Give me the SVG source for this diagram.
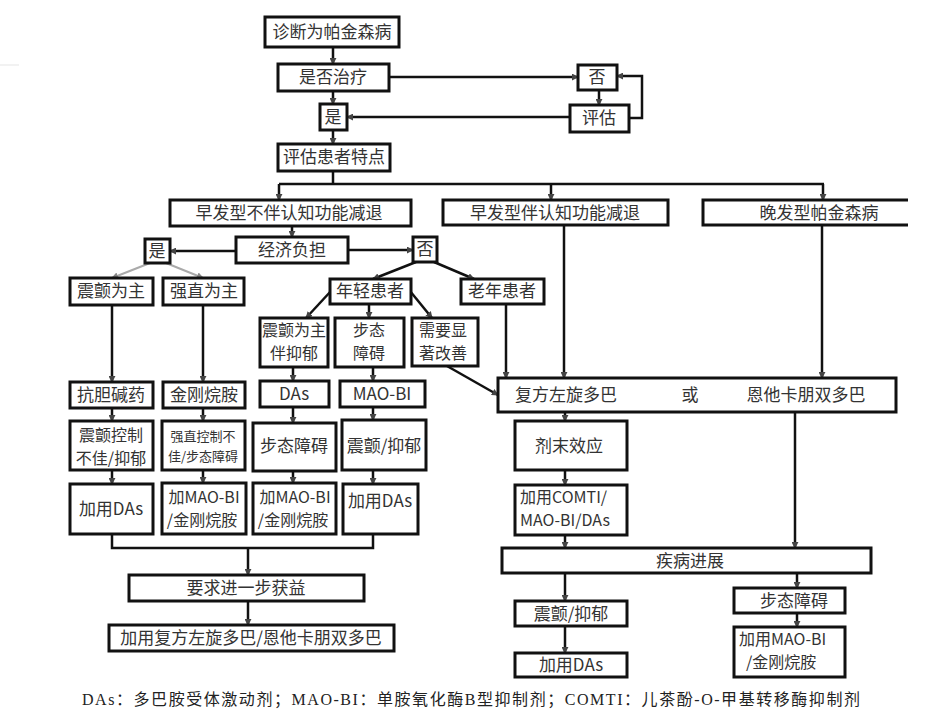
<svg xmlns="http://www.w3.org/2000/svg" width="929" height="720" viewBox="0 0 929 720">
<style>
.b{fill:#fff;stroke:#111;stroke-width:3}
.t{font-family:"Noto Sans CJK SC","Noto Sans",sans-serif;font-size:17px;fill:#333;text-anchor:middle}
.m{font-size:16px}
.s{font-size:13px}
.l{text-anchor:start}
.c{fill:none;stroke:#111;stroke-width:2.5}
.a{marker-end:url(#ah)}
.g{fill:none;stroke:#aaa;stroke-width:2;marker-end:url(#ahg)}
.f{font-family:"Liberation Serif","Noto Sans CJK SC",serif;font-size:16px;fill:#222}
</style>
<defs>
<marker id="ah" viewBox="0 0 8 8" refX="7" refY="4" markerWidth="7" markerHeight="7" markerUnits="userSpaceOnUse" orient="auto"><path d="M0,0 L8,4 L0,8 z" fill="#444"/></marker>
<marker id="ahg" viewBox="0 0 8 8" refX="7" refY="4" markerWidth="7" markerHeight="7" markerUnits="userSpaceOnUse" orient="auto"><path d="M0,0 L8,4 L0,8 z" fill="#888"/></marker>
</defs>
<rect width="929" height="720" fill="#fff"/>
<line x1="0" y1="65" x2="19" y2="65" stroke="#eee" stroke-width="1.5"/>

<g id="connectors">
<path class="c a" d="M333,47 V64"/>
<path class="c a" d="M389,77 H578"/>
<path class="c a" d="M599,90 V105" stroke="#666"/>
<path class="c a" d="M629,118 H642 V76 H617"/>
<path class="c a" d="M570,117 H347"/>
<path class="c a" d="M333,91 V104"/>
<path class="c a" d="M333,130 V144"/>
<path class="c" d="M333,171 V184 M279,184 H824"/>
<path class="c a" d="M279,184 V200"/>
<path class="c a" d="M551,184 V200"/>
<path class="c a" d="M823,184 V200"/>
<path class="c a" d="M292,226 V237"/>
<path class="c a" d="M236,251 H170"/>
<path class="c a" d="M348,250 H413"/>
<path class="g" d="M150,263 L112,278"/>
<path class="g" d="M166,263 L203,278"/>
<path class="c a" d="M416,262 L373,279"/>
<path class="c a" d="M434,262 L474,279"/>
<path class="c a" d="M331,291 L306,318"/>
<path class="c a" d="M369,304 V318"/>
<path class="c a" d="M410,291 L432,318"/>
<path class="c a" d="M112,305 V382"/>
<path class="c a" d="M203,305 V382"/>
<path class="c a" d="M293,367 V381"/>
<path class="c a" d="M373,367 V381"/>
<path class="c a" d="M112,408 V421"/>
<path class="c a" d="M203,408 V421"/>
<path class="c a" d="M293,407 V423"/>
<path class="c a" d="M373,407 V420"/>
<path class="c a" d="M112,470 V484"/>
<path class="c a" d="M203,470 V483"/>
<path class="c a" d="M293,471 V483"/>
<path class="c a" d="M373,470 V484"/>
<path class="c" d="M112,534 V548 H373 V534"/>
<path class="c a" d="M248,548 V575"/>
<path class="c a" d="M248,601 V625"/>
<path class="c a" d="M506,304 V378"/>
<path class="c a" d="M564,225 V378"/>
<path class="c a" d="M822,225 V378"/>
<path class="c a" d="M447,366 L498,395"/>
<path class="c a" d="M565,412 V421"/>
<path class="c a" d="M565,470 V485"/>
<path class="c a" d="M565,535 V548"/>
<path class="c a" d="M795,412 V548"/>
<path class="c a" d="M565,573 V601"/>
<path class="c a" d="M565,626 V653"/>
<path class="c a" d="M797,573 V588"/>
<path class="c a" d="M797,613 V627"/>
</g>

<g id="n1"><rect class="b" x="265" y="17" width="134" height="30"/><text class="t" x="332" y="38">诊断为帕金森病</text></g>
<g id="n2"><rect class="b" x="278" y="64" width="111" height="27"/><text class="t" x="333" y="83">是否治疗</text></g>
<g id="n3"><rect class="b" x="578" y="65" width="39" height="25"/><text class="t" x="597" y="83">否</text></g>
<g id="n4"><rect class="b" x="320" y="104" width="27" height="26"/><text class="t" x="333" y="123">是</text></g>
<g id="n5"><rect class="b" x="570" y="105" width="59" height="27"/><text class="t" x="599" y="124">评估</text></g>
<g id="n6"><rect class="b" x="278" y="144" width="112" height="27"/><text class="t" x="334" y="163">评估患者特点</text></g>
<g id="n7"><rect class="b" x="170" y="200" width="241" height="26"/><text class="t" x="289" y="219">早发型不伴认知功能减退</text></g>
<g id="n8"><rect class="b" x="443" y="200" width="225" height="25"/><text class="t" x="555" y="219">早发型伴认知功能减退</text></g>
<g id="n9"><path d="M908,200 H703 V225 H908" fill="#fff" stroke="#111" stroke-width="3"/><text class="t" x="819" y="219">晚发型帕金森病</text></g>
<g id="n10"><rect class="b" x="236" y="237" width="112" height="26"/><text class="t" x="292" y="256">经济负担</text></g>
<g id="n11"><rect class="b" x="145" y="239" width="25" height="24"/><text class="t" x="157" y="257">是</text></g>
<g id="n12"><rect class="b" x="413" y="237" width="24" height="25"/><text class="t" x="425" y="255">否</text></g>
<g id="n13"><rect class="b" x="70" y="278" width="83" height="27"/><text class="t" x="111" y="297">震颤为主</text></g>
<g id="n14"><rect class="b" x="163" y="278" width="81" height="27"/><text class="t" x="204" y="297">强直为主</text></g>
<g id="n15"><rect class="b" x="330" y="279" width="81" height="25"/><text class="t" x="370" y="297">年轻患者</text></g>
<g id="n16"><rect class="b" x="461" y="279" width="83" height="25"/><text class="t" x="502" y="297">老年患者</text></g>
<g id="n17"><rect class="b" x="260" y="318" width="68" height="49"/><text class="t m" x="294" y="336">震颤为主</text><text class="t m" x="294" y="359">伴抑郁</text></g>
<g id="n18"><rect class="b" x="335" y="318" width="69" height="49"/><text class="t m" x="369" y="336">步态</text><text class="t m" x="369" y="359">障碍</text></g>
<g id="n19"><rect class="b" x="412" y="318" width="66" height="48"/><text class="t m" x="443" y="336">需要显</text><text class="t m" x="443" y="359">著改善</text></g>
<g id="n20"><rect class="b" x="70" y="382" width="83" height="26"/><text class="t" x="111" y="401">抗胆碱药</text></g>
<g id="n21"><rect class="b" x="163" y="382" width="82" height="26"/><text class="t" x="204" y="401">金刚烷胺</text></g>
<g id="n22"><rect class="b" x="260" y="381" width="69" height="26"/><text class="t" x="294" y="400">DAs</text></g>
<g id="n23"><rect class="b" x="340" y="381" width="85" height="26"/><text class="t" x="382" y="400">MAO-BI</text></g>
<g id="n24"><rect class="b" x="70" y="421" width="83" height="49"/><text class="t m" x="111" y="441">震颤控制</text><text class="t m" x="111" y="464">不佳/抑郁</text></g>
<g id="n25"><rect class="b" x="162" y="421" width="83" height="49"/><text class="t s" x="203" y="441">强直控制不</text><text class="t s" x="203" y="461">佳/步态障碍</text></g>
<g id="n26"><rect class="b" x="253" y="423" width="83" height="48"/><text class="t" x="294" y="452">步态障碍</text></g>
<g id="n27"><rect class="b" x="342" y="420" width="84" height="50"/><text class="t" x="384" y="452">震颤/抑郁</text></g>
<g id="n28"><rect class="b" x="70" y="484" width="83" height="50"/><text class="t" x="111" y="515">加用DAs</text></g>
<g id="n29"><rect class="b" x="162" y="483" width="84" height="51"/><text class="t m" x="204" y="503">加MAO-BI</text><text class="t m" x="202" y="526">/金刚烷胺</text></g>
<g id="n30"><rect class="b" x="253" y="483" width="83" height="51"/><text class="t m" x="295" y="503">加MAO-BI</text><text class="t m" x="293" y="526">/金刚烷胺</text></g>
<g id="n31"><rect class="b" x="343" y="484" width="75" height="50"/><text class="t" x="380" y="507">加用DAs</text></g>
<g id="n32"><rect class="b" x="129" y="575" width="235" height="26"/><text class="t" x="246" y="594">要求进一步获益</text></g>
<g id="n33"><rect class="b" x="109" y="625" width="285" height="26"/><text class="t" x="251" y="644">加用复方左旋多巴/恩他卡朋双多巴</text></g>
<g id="n34"><rect class="b" x="498" y="378" width="398" height="34"/><text class="t" x="566" y="401">复方左旋多巴</text><text class="t" x="690" y="401">或</text><text class="t" x="806" y="401">恩他卡朋双多巴</text></g>
<g id="n35"><rect class="b" x="515" y="421" width="112" height="49"/><text class="t" x="569" y="452">剂末效应</text></g>
<g id="n36"><rect class="b" x="515" y="485" width="112" height="50"/><text class="t m l" x="520" y="503">加用COMTI/</text><text class="t m l" x="520" y="526">MAO-BI/DAs</text></g>
<g id="n37"><rect class="b" x="502" y="548" width="369" height="25"/><text class="t" x="690" y="567">疾病进展</text></g>
<g id="n38"><rect class="b" x="515" y="601" width="112" height="25"/><text class="t" x="571" y="620">震颤/抑郁</text></g>
<g id="n39"><rect class="b" x="515" y="653" width="112" height="24"/><text class="t" x="571" y="671">加用DAs</text></g>
<g id="n40"><rect class="b" x="734" y="588" width="111" height="25"/><text class="t" x="794" y="607">步态障碍</text></g>
<g id="n41"><rect class="b" x="734" y="627" width="111" height="50"/><text class="t m l" x="739" y="645">加用MAO-BI</text><text class="t m l" x="746" y="668">/金刚烷胺</text></g>

<text class="f" x="82" y="705" textLength="778" lengthAdjust="spacing">DAs：多巴胺受体激动剂；MAO-BI：单胺氧化酶B型抑制剂；COMTI：儿茶酚-O-甲基转移酶抑制剂</text>
</svg>
